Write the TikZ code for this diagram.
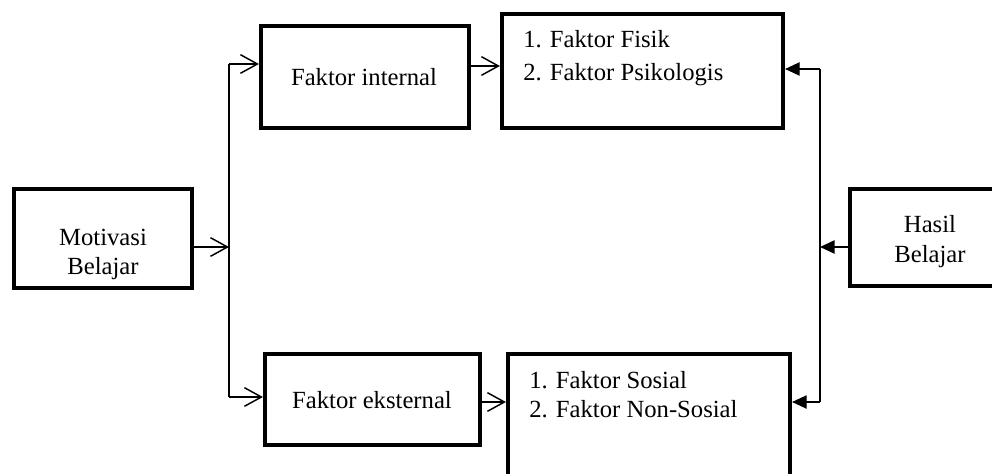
\documentclass[tikz,border=0pt]{standalone}
\usepackage{fontspec}
\setmainfont{Liberation Serif}
\usetikzlibrary{arrows.meta,calc}
\begin{document}
\begin{tikzpicture}[x=0.75pt,y=-0.75pt,
  box/.style={draw,line width=3.1pt,inner sep=0pt,outer sep=1.55pt,rectangle},
  txt/.style={inner sep=0pt,anchor=base,font=\fontsize{18.5}{22}\selectfont},
  ltxt/.style={txt,anchor=base west},
  wire/.style={line width=1.1pt},
  openarr/.style={wire,-{Straight Barb[length=12.75pt,width=14pt,line width=1.1pt]}},
  fillarr/.style={wire,-{Triangle[length=11pt,width=10pt]}}]
\useasboundingbox (0,0) rectangle (992,474);
\clip (0,0) rectangle (992,474);
% boxes
\node[box,minimum width=133.5pt,minimum height=74.25pt] (mot) at (103,238.5) {};
\node[box,minimum width=156pt,minimum height=76.5pt] (int) at (365,77) {};
\node[box,minimum width=210.75pt,minimum height=85.5pt] (fis) at (642.5,71) {};
\node[box,minimum width=109.5pt,minimum height=72.75pt] (has) at (923,237.5) {};
\node[box,minimum width=161.25pt,minimum height=68.25pt] (eks) at (372.5,399.5) {};
\node[box,minimum width=211.5pt,minimum height=93pt] (sos) at (649,416) {};
% texts
\node[txt] (tmot1) at (103,245) {Motivasi};
\node[txt] (tmot2) at (103,274) {Belajar};
\node[txt] (tint) at (364,86) {Faktor internal};
\node[ltxt] (tfis1) at (523,48) {1. Faktor Fisik};
\node[ltxt] (tfis2) at (523,81) {2. Faktor Psikologis};
\node[txt] (thas1) at (930,232) {Hasil};
\node[txt] (thas2) at (930,262) {Belajar};
\node[txt] (teks) at (372,408) {Faktor eksternal};
\node[ltxt] (tsos1) at (529,388) {1. Faktor Sosial};
\node[ltxt] (tsos2) at (529,417) {2. Faktor Non-Sosial};
% junction points
\coordinate (lm) at (229,247);
\coordinate (lt) at (229,64);
\coordinate (lb) at (229,397);
\coordinate (rm) at (820,247);
\coordinate (rt) at (820,69);
\coordinate (rb) at (820,402);
% left side connectors
\draw[openarr] (mot.east |- lm) -- (lm);
\draw[wire] (lt) -- (lb);
\draw[openarr] (lt) -- (int.west |- lt);
\draw[openarr] (lb) -- (eks.west |- lb);
\draw[openarr] (int.east |- 0,66) -- (fis.west |- 0,66);
\draw[openarr] (eks.east |- 0,402) -- (sos.west |- 0,402);
% right side connectors
\draw[fillarr] (has.west |- rm) -- (rm);
\draw[wire] (rt) -- (rb);
\draw[fillarr] (rt) -- (fis.east |- rt);
\draw[fillarr] (rb) -- (sos.east |- rb);
\end{tikzpicture}
\end{document}
